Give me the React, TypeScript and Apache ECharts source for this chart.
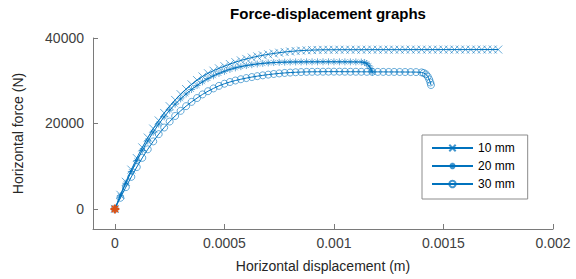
import React, { useEffect, useRef } from "react";
import * as echarts from "echarts";

// Displacement in micrometres (converted to metres when the chart is built), force in N
const disp10 = [0,25,50,75,100,125,150,175,200,225,250,275,300,325,350,375,400,425,450,475,500,525,550,575,600,625,650,675,700,725,750,775,800,825,850,875,900,925,950,975,1000,1025,1050,1075,1100,1125,1150,1175,1200,1225,1250,1275,1300,1325,1350,1375,1400,1425,1450,1475,1500,1525,1550,1575,1600,1625,1650,1675,1700,1725,1750];
const force10 = [0,3300,6350,9200,11900,14400,16700,18800,20700,22450,24050,25500,26850,28050,29150,30150,31000,31750,32350,32900,33400,33900,34350,34750,35100,35420,35700,35950,36180,36380,36560,36720,36850,36960,37050,37120,37170,37210,37240,37250,37250,37260,37260,37260,37260,37260,37270,37270,37270,37270,37270,37270,37270,37280,37280,37280,37280,37280,37280,37280,37290,37290,37290,37290,37290,37290,37290,37300,37300,37300,37300];

const disp20 = [0,25,50,75,100,125,150,175,200,225,250,275,300,325,350,375,400,425,450,475,500,525,550,575,600,625,650,675,700,725,750,775,800,825,850,875,900,925,950,975,1000,1025,1050,1075,1100,1125,1140,1150,1160,1168,1175];
const force20 = [0,3100,6000,8750,11300,13700,15900,17950,19850,21550,23100,24500,25750,26900,27950,28900,29750,30500,31150,31700,32200,32650,33000,33300,33550,33750,33920,34060,34170,34250,34310,34350,34380,34400,34410,34420,34420,34420,34430,34430,34430,34420,34420,34410,34400,34380,34250,34000,33500,32800,32000];

const disp30 = [0,25,50,75,100,125,150,175,200,225,250,275,300,325,350,375,400,425,450,475,500,525,550,575,600,625,650,675,700,725,750,775,800,825,850,875,900,925,950,975,1000,1025,1050,1075,1100,1125,1150,1175,1200,1225,1250,1275,1300,1325,1350,1375,1400,1410,1420,1428,1435,1440,1443];
const force30 = [0,2600,5100,7500,9800,11950,13950,15800,17500,19050,20450,21750,22950,24050,25050,25950,26800,27550,28200,28800,29300,29700,30050,30350,30620,30860,31070,31260,31430,31580,31710,31820,31910,31980,32030,32070,32090,32100,32110,32120,32120,32120,32110,32100,32100,32090,32080,32080,32070,32070,32060,32060,32050,32040,32030,32020,31950,31800,31500,31000,30300,29600,29000];

const originDisp = [0];
const originForce = [0];

const seriesNames = ["10 mm", "20 mm", "30 mm"];
const xTicks = [0, 0.0005, 0.001, 0.0015, 0.002];
const yTicks = [0, 20000, 40000];

const BLUE = "#0072BD";
const ORANGE = "#D95319";
const FONT = "'Liberation Sans', Arial, sans-serif";

const SYM_X = "path://M0,0L10,10M10,0L0,10";
const SYM_STAR = "path://M5,0L5,10M0,5L10,5M1.6,1.6L8.4,8.4M8.4,1.6L1.6,8.4";

function zip(d: number[], f: number[]) {
  const n = Math.min(d.length, f.length);
  const out: number[][] = [];
  for (let i = 0; i < n; i++) out.push([d[i] * 1e-6, f[i]]);
  return out;
}

export default function App() {
  const ref = useRef<HTMLDivElement>(null);
  useEffect(() => {
    if (!ref.current) return;
    const chart = echarts.init(ref.current, undefined, { renderer: "svg" });
    const mk = (name: string, data: number[][], symbol: string, size: number) => ({
      name,
      type: "line",
      data,
      symbol,
      symbolSize: size,
      showAllSymbol: true,
      lineStyle: { color: BLUE, width: 1 },
      itemStyle: { color: "transparent", borderColor: BLUE, borderWidth: 0.8, opacity: 0.75 },
      emphasis: { disabled: true },
    });
    chart.setOption({
      animation: false,
      title: {
        text: "Force-displacement graphs",
        left: 323,
        top: 1,
        textAlign: "center",
        textStyle: { fontFamily: FONT, fontSize: 15, fontWeight: "bold", color: "#000" },
      },
      legend: {
        data: seriesNames,
        orient: "vertical",
        left: 422,
        top: 135,
        padding: [7, 13, 9, 9],
        itemGap: 6,
        itemWidth: 41,
        itemHeight: 8,
        backgroundColor: "#fff",
        borderColor: "#8c8c8c",
        borderWidth: 1,
        borderRadius: 0,
        textStyle: { fontFamily: FONT, fontSize: 12, color: "#000" },
      },
      grid: { left: 93, right: 23, top: 38, bottom: 50, containLabel: false },
      xAxis: {
        type: "value",
        min: -0.0001,
        max: 0.002,
        name: "Horizontal displacement (m)",
        nameLocation: "middle",
        nameGap: 30,
        nameTextStyle: { fontFamily: FONT, fontSize: 14, color: "#262626" },
        axisLine: { show: true, onZero: false, lineStyle: { color: "#7a7a7a", width: 1 } },
        axisTick: { show: true, inside: true, length: 5, customValues: xTicks, lineStyle: { color: "#7a7a7a" } },
        axisLabel: {
          customValues: xTicks,
          formatter: (v: number) => String(v),
          fontFamily: FONT,
          fontSize: 14,
          color: "#404040",
          margin: 7,
        },
        splitLine: { show: false },
      },
      yAxis: {
        type: "value",
        min: -4700,
        max: 40000,
        name: "Horizontal force (N)",
        nameLocation: "middle",
        nameGap: 68,
        nameTextStyle: { fontFamily: FONT, fontSize: 14, color: "#262626" },
        axisLine: { show: true, onZero: false, lineStyle: { color: "#7a7a7a", width: 1 } },
        axisTick: { show: true, inside: true, length: 5, customValues: yTicks, lineStyle: { color: "#7a7a7a" } },
        axisLabel: {
          customValues: yTicks,
          formatter: (v: number) => String(v),
          fontFamily: FONT,
          fontSize: 14,
          color: "#404040",
          margin: 9,
        },
        splitLine: { show: false },
      },
      series: [
        mk(seriesNames[0], zip(disp10, force10), SYM_X, 8),
        mk(seriesNames[1], zip(disp20, force20), SYM_STAR, 7),
        mk(seriesNames[2], zip(disp30, force30), "circle", 7),
        {
          name: "origin",
          type: "line",
          data: zip(originDisp, originForce),
          symbol: SYM_STAR,
          symbolSize: 9,
          lineStyle: { color: ORANGE, width: 1 },
          itemStyle: { color: "transparent", borderColor: ORANGE, borderWidth: 2 },
          emphasis: { disabled: true },
          z: 5,
        },
      ],
    });
    return () => chart.dispose();
  }, []);
  return (
    <div
      ref={ref}
      style={{ position: "fixed", left: 0, top: 0, width: 576, height: 279, background: "#fff" }}
    />
  );
}
